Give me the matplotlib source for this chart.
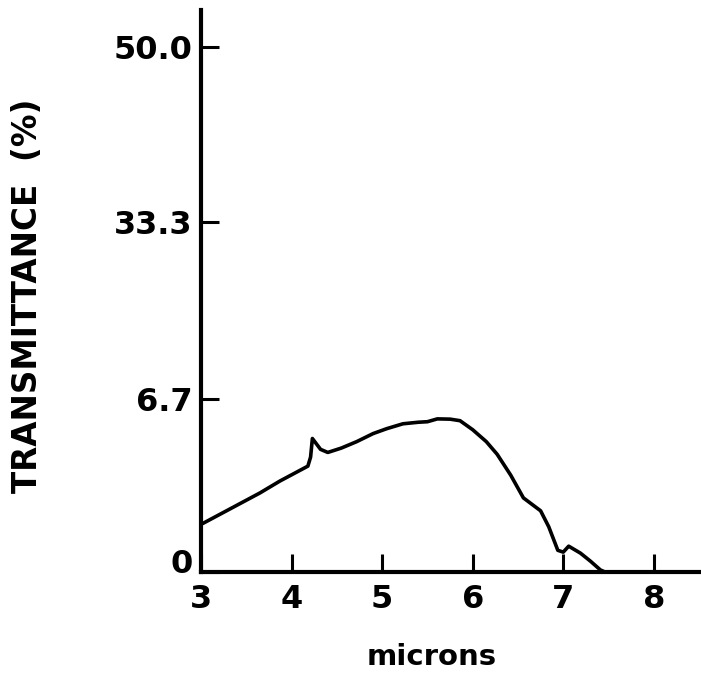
import numpy as np
import matplotlib
matplotlib.use('Agg')
import matplotlib.pyplot as plt
from matplotlib.transforms import ScaledTranslation

# 투과율 스펙트럼 (y축은 눈금 간격이 같은 비선형 눈금)
microns = [3.02, 3.65, 3.87, 4.18, 4.21, 4.23, 4.32, 4.40, 4.55, 4.72, 4.90,
           5.05, 5.23, 5.40, 5.50, 5.61, 5.75, 5.86, 6.00, 6.15, 6.27, 6.42,
           6.56, 6.75, 6.84, 6.94, 7.00, 7.06, 7.19, 7.30, 7.41, 7.46]
transmittance = [1.88, 3.06, 3.52, 4.10, 4.45, 5.17, 4.75, 4.63, 4.80, 5.05, 5.36,
                 5.55, 5.74, 5.80, 5.82, 5.93, 5.92, 5.86, 5.51, 5.05, 4.56, 3.75,
                 2.87, 2.37, 1.75, 0.84, 0.77, 1.00, 0.73, 0.42, 0.08, 0.0]

y_ticks = [0, 6.7, 33.3, 50.0]
y_tick_labels = ['0', '6.7', '33.3', '50.0']
x_ticks = [3, 4, 5, 6, 7, 8]

# 눈금 값 -> 화면 위치 (픽셀 간격 기준)
scale_vals = [0, 6.7, 33.3, 50.0, 66.7]
scale_pos = [0, 173, 350, 525, 700]


def forward(v):
    return np.interp(v, scale_vals, scale_pos)


def inverse(p):
    return np.interp(p, scale_pos, scale_vals)


plt.rcParams['font.family'] = ['DejaVu Sans']
plt.rcParams['font.weight'] = 'bold'

fig = plt.figure(figsize=(7.01, 6.79), dpi=100)
ax = fig.add_axes([201 / 701, (679 - 572) / 679, 499 / 701, 562 / 679])

ax.plot(microns, transmittance, color='black', linewidth=2.6,
        solid_joinstyle='round', solid_capstyle='round')

ax.set_yscale('function', functions=(forward, inverse))
ax.set_ylim(0, inverse(562))
ax.set_xlim(3, 8.51)

ax.set_yticks(y_ticks)
ax.set_yticklabels(y_tick_labels)
ax.set_xticks(x_ticks)
ax.minorticks_off()

for side in ['top', 'right']:
    ax.spines[side].set_visible(False)
for side in ['left', 'bottom']:
    ax.spines[side].set_linewidth(3)

ax.tick_params(axis='both', direction='in', length=13, width=2.2,
               labelsize=23)
ax.tick_params(axis='y', pad=6)
ax.tick_params(axis='x', pad=9)

# '0' 라벨은 원본처럼 살짝 위로
zero_lbl = ax.yaxis.get_major_ticks()[0].label1
zero_lbl.set_transform(zero_lbl.get_transform()
                       + ScaledTranslation(0, 8 / 72, fig.dpi_scale_trans))

ax.set_ylabel('TRANSMITTANCE  (%)', fontsize=23.5, fontweight='bold')
ax.yaxis.set_label_coords(-0.315, 0.491)
ax.set_xlabel('microns', fontsize=21, fontweight='bold')
ax.xaxis.set_label_coords(0.463, -0.126)

fig.savefig('out.png', dpi=100)
